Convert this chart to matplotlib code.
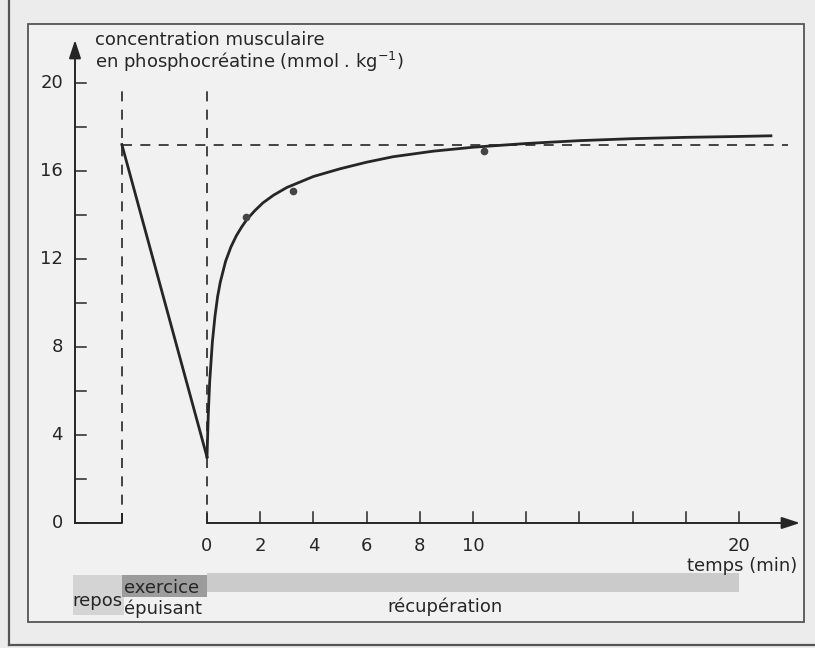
import matplotlib
matplotlib.use("Agg")
import matplotlib.pyplot as plt
from matplotlib.lines import Line2D
from matplotlib.patches import Rectangle

plt.rcParams["font.family"] = ["DejaVu Sans"]
plt.rcParams["mathtext.default"] = "regular"

# values
rest_level = 17.2          # mmol/kg at rest (dashed reference line)
exercise_start = -3.2      # start of exhausting exercise, drawn left of t = 0
low_level = 3.0            # level at the end of exercise

recovery_t = [0, 0.05, 0.1, 0.2, 0.3, 0.4, 0.5, 0.7, 0.9, 1.1, 1.3, 1.5, 1.8,
              2.1, 2.5, 3.0, 3.5, 4.0, 5, 6, 7, 8.5, 10, 12, 14, 16, 18, 20, 21.2]
recovery_pcr = [3.0, 5.0, 6.4, 8.2, 9.4, 10.3, 10.95, 11.9, 12.55, 13.05, 13.45,
                13.8, 14.2, 14.55, 14.9, 15.25, 15.5, 15.75, 16.1, 16.4, 16.65,
                16.9, 17.08, 17.25, 17.38, 17.47, 17.53, 17.57, 17.6]

measured_t = [1.45, 3.25, 10.4]
measured_pcr = [13.9, 15.1, 16.9]

y_ticks = [0, 2, 4, 6, 8, 10, 12, 14, 16, 18, 20]
y_labels = {0: "0", 4: "4", 8: "8", 12: "12", 16: "16", 20: "20"}
x_ticks = [0, 2, 4, 6, 8, 10, 12, 14, 16, 18, 20]
x_labels = {0: "0", 2: "2", 4: "4", 6: "6", 8: "8", 10: "10", 20: "20"}

# layout: pixel geometry of the original 815x648 scan
W, H = 815, 648
X0, PX_PER_MIN = 207, 26.6
Y0, PX_PER_UNIT = 523, 22.0
FS = 13


def fx(px):
    return px / W


def fy(py):
    return 1 - py / H


def dx(px):
    """pixel column -> data x"""
    return (px - X0) / PX_PER_MIN


def dy(py):
    """pixel row -> data y"""
    return (Y0 - py) / PX_PER_UNIT


ink = "#262626"
fig = plt.figure(figsize=(W / 100, H / 100), dpi=100, facecolor="#ececec")
ax = fig.add_axes([0, 0, 1, 1])
ax.set_xlim(dx(0), dx(W))
ax.set_ylim(dy(H), dy(0))
ax.axis("off")

# frames of the scanned page (kept under the axes)
fig.add_artist(Rectangle((fx(28), fy(622)), fx(804) - fx(28), fy(24) - fy(622),
                         transform=fig.transFigure, fill=True, facecolor="#f1f1f1",
                         edgecolor="#555555", linewidth=1.3, zorder=-1))
fig.add_artist(Line2D([fx(9), fx(9)], [fy(0), fy(645)], transform=fig.transFigure,
                      color="#555555", linewidth=1.6, zorder=-1))
fig.add_artist(Line2D([fx(9), fx(815)], [fy(645), fy(645)], transform=fig.transFigure,
                      color="#555555", linewidth=1.6, zorder=-1))

# phase bars under the time axis
ax.add_patch(Rectangle((dx(73), dy(615)), dx(124) - dx(73), dy(575) - dy(615),
                       facecolor="#d4d4d4", edgecolor="none", zorder=1))
ax.add_patch(Rectangle((exercise_start, dy(597)), 0 - exercise_start, dy(575) - dy(597),
                       facecolor="#9c9c9c", edgecolor="none", zorder=1))
ax.add_patch(Rectangle((0, dy(592)), 20, dy(573) - dy(592),
                       facecolor="#cbcbcb", edgecolor="none", zorder=1))

# y axis with arrow
y_axis_x = dx(75)
ax.annotate("", xy=(y_axis_x, dy(40)), xytext=(y_axis_x, 0),
            arrowprops=dict(arrowstyle="-|>,head_length=0.55,head_width=0.18",
                            mutation_scale=20, color=ink, lw=1.4, shrinkA=0, shrinkB=0))
for v in y_ticks:
    ax.plot([y_axis_x, y_axis_x + 11 / PX_PER_MIN], [v, v], color=ink, lw=1.1)
    if v in y_labels:
        ax.text(dx(63), v, y_labels[v], ha="right", va="center", fontsize=FS, color=ink)

# short baseline for the rest period
ax.plot([y_axis_x, exercise_start, exercise_start], [0, 0, 0.4], color=ink, lw=1.4)

# x axis with arrow
ax.annotate("", xy=(dx(800), 0), xytext=(0, 0),
            arrowprops=dict(arrowstyle="-|>,head_length=0.55,head_width=0.18",
                            mutation_scale=20, color=ink, lw=1.4, shrinkA=0, shrinkB=0))
for t in x_ticks:
    ax.plot([t, t], [0, 11 / PX_PER_UNIT], color=ink, lw=1.1)
    if t in x_labels:
        ax.text(t, dy(546), x_labels[t], ha="center", va="center", fontsize=FS, color=ink)

# dashed guides
dash = dict(color=ink, lw=1.2, linestyle=(0, (6, 5)))
ax.plot([exercise_start, exercise_start], [0, 20], **dash)
ax.plot([0, 0], [0, 20], **dash)
ax.plot([exercise_start, dx(788)], [rest_level, rest_level], **dash)

# exercise drop and recovery curve
ax.plot([exercise_start, 0], [rest_level, low_level], color=ink, lw=2.0, zorder=4)
ax.plot(recovery_t, recovery_pcr, color=ink, lw=2.0, zorder=4)
ax.plot(measured_t, measured_pcr, "o", color="#444444", markersize=4.5, zorder=5)

# texts
ax.text(dx(95), dy(40), "concentration musculaire", ha="left", va="center",
        fontsize=FS, color=ink)
ax.text(dx(95), dy(62), "en phosphocréatine (mmol . kg$^{-1}$)", ha="left", va="center",
        fontsize=FS, color=ink)
ax.text(dx(797), dy(566), "temps (min)", ha="right", va="center", fontsize=FS, color=ink)
ax.text(dx(97), dy(601), "repos", ha="center", va="center", fontsize=FS, color=ink)
ax.text(dx(124), dy(588), "exercice", ha="left", va="center", fontsize=FS, color=ink)
ax.text(dx(124), dy(609), "épuisant", ha="left", va="center", fontsize=FS, color=ink)
ax.text(dx(445), dy(607), "récupération", ha="center", va="center", fontsize=FS, color=ink)

fig.savefig("out.png", dpi=100, facecolor=fig.get_facecolor())
